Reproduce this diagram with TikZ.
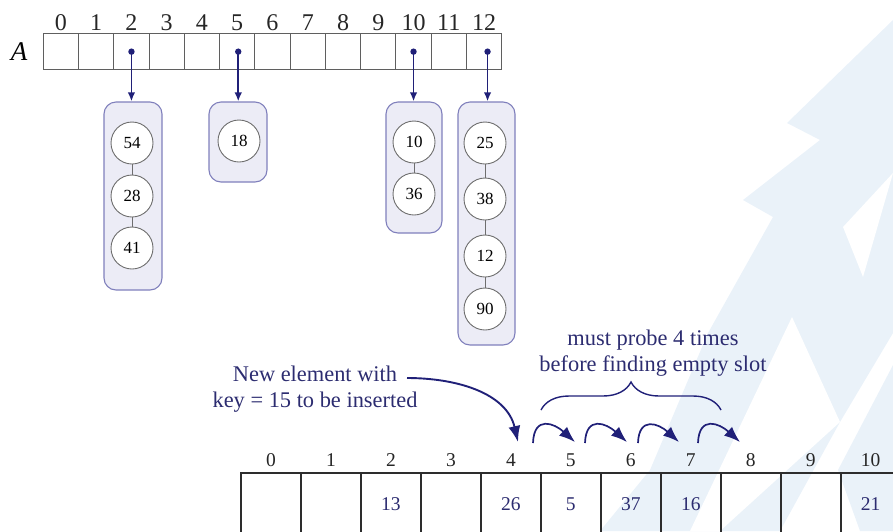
\documentclass[tikz,border=0pt]{standalone}
\usepackage{fontspec}
\setmainfont{Liberation Serif}
\usetikzlibrary{arrows.meta,decorations.pathreplacing}
\definecolor{navy}{RGB}{32,32,120}
\definecolor{navytext}{RGB}{44,44,112}
\definecolor{boxfill}{RGB}{236,236,246}
\definecolor{boxline}{RGB}{128,128,188}
\definecolor{keyline}{RGB}{110,110,110}
\definecolor{cellgray}{RGB}{95,95,95}
\definecolor{celldark}{RGB}{45,45,45}
\definecolor{wm}{RGB}{234,242,249}

\begin{document}
\begin{tikzpicture}[x=1pt,y=-1pt,
  topcell/.style={draw=cellgray, line width=1pt, minimum width=35.26pt, minimum height=35.7pt, inner sep=0pt, outer sep=0pt},
  botcell/.style={draw=celldark, line width=1.8pt, minimum width=60pt, minimum height=62pt, inner sep=0pt, outer sep=0pt, text=navytext, font=\fontsize{19.5}{20}\selectfont},
  idx/.style={font=\fontsize{24}{24}\selectfont, inner sep=0pt, text=black!85},
  bidx/.style={font=\fontsize{19.5}{20}\selectfont, inner sep=0pt, text=black!85},
  chainbox/.style={draw=boxline, fill=boxfill, rounded corners=12pt, line width=1.1pt, inner sep=0pt},
  key/.style={circle, draw=keyline, fill=white, line width=0.9pt, minimum size=42pt, inner sep=0pt, font=\fontsize{17}{17}\selectfont},
  link/.style={draw=keyline, line width=0.9pt},
  ptr/.style={draw=navy, line width=1.8pt, -{Latex[length=9pt,width=7.5pt]}},
  note/.style={text=navytext, align=center, font=\fontsize{22.4}{26}\selectfont, inner sep=0pt},
  probe/.style={draw=navy, line width=1.7pt, -{Latex[length=16pt,width=12pt]}},
  brc/.style={draw=navy, line width=1.4pt, decorate, decoration={brace, amplitude=28pt}}
]
\useasboundingbox (0,0) rectangle (893,531);

% faint background emblem
\fill[wm] (893,20) -- (787,123) -- (820,140) -- (743,200) -- (773,217) -- (708,333)
  -- (650,470) -- (600,531) -- (780,531) -- (840,422) -- (893,333) -- cycle;
\fill[wm] (893,365) -- (838,470) -- (860,531) -- (893,531) -- cycle;
\fill[white] (843,227) -- (863,277) -- (893,173) -- cycle;
\fill[white] (792,317) -- (840,422) -- (720,531) -- (690,531) -- cycle;

% array A with chained buckets
\node[font=\fontsize{27}{27}\selectfont\itshape, inner sep=0pt] (Alabel) at (19,52) {A};
\foreach \i in {0,...,12} {
  \node[topcell] (c\i) at ({43.3+35.26*(\i+0.5)},51.15) {};
  \node[idx] (t\i) at ({43.3+35.26*(\i+0.5)},22.5) {\i};
}

\node[chainbox, minimum width=58pt, minimum height=188pt] (b2) at (133,196) {};
\node[chainbox, minimum width=58pt, minimum height=80pt] (b5) at (238,142) {};
\node[chainbox, minimum width=56pt, minimum height=131pt] (b10) at (414,167.5) {};
\node[chainbox, minimum width=57pt, minimum height=243pt] (b12) at (486.5,223.5) {};

\node[key] (k54) at (132,143) {54};
\node[key] (k28) at (132,196) {28};
\node[key] (k41) at (132,248) {41};
\node[key] (k18) at (239,141) {18};
\node[key] (k10) at (414,142) {10};
\node[key] (k36) at (414,194) {36};
\node[key] (k25) at (485,143) {25};
\node[key] (k38) at (485,199) {38};
\node[key] (k12) at (485,256) {12};
\node[key] (k90) at (485,309) {90};

\draw[link] (k54) -- (k28);
\draw[link] (k28) -- (k41);
\draw[link] (k10) -- (k36);
\draw[link] (k25) -- (k38);
\draw[link] (k38) -- (k12);
\draw[link] (k12) -- (k90);

\coordinate (s2) at ([yshift=-0.5pt]c2.center);
\coordinate (s5) at ([xshift=1pt,yshift=-0.5pt]c5.center);
\coordinate (s10) at ([yshift=-0.5pt]c10.center);
\coordinate (s12) at ([xshift=3.5pt,yshift=-0.5pt]c12.center);
\foreach \s/\b in {s2/b2, s5/b5, s10/b10, s12/b12} {
  \fill[navy] (\s) circle (3.2pt);
  \draw[ptr] (\s) -- (\s |- \b.north);
}

% open-addressing table
\foreach \i in {0,...,10} {
  \node[bidx] (u\i) at ({271+59.97*\i},459.7) {\i};
}
\foreach \i/\v in {0/,1/,2/13,3/,4/26,5/5,6/37,7/16,8/,9/,10/21} {
  \node[botcell] (d\i) at ({271+59.97*\i},504) {\v};
}

% annotations
\node[note] (newkey) at (315,389) {New element with\\key = 15 to be inserted};
\coordinate (ins0) at (407,378);
\coordinate (ins1) at (518,442);
\draw[probe, line width=1.9pt] (ins0) to[out=0,in=103] (ins1);

\node[note] (probetxt) at (653,353) {must probe 4 times\\before finding empty slot};
\coordinate (brl) at (541,410);
\coordinate (brr) at (721,410);
\draw[brc] (brl) -- (brr);

\foreach \n/\a/\b in {1/533/575, 2/585/627, 3/638/679, 4/698/740} {
  \coordinate (pa\n) at (\a,443);
  \coordinate (pb\n) at (\b,442);
  \draw[probe] (pa\n) to[out=88,in=138,looseness=1.7] (pb\n);
}
\end{tikzpicture}
\end{document}
